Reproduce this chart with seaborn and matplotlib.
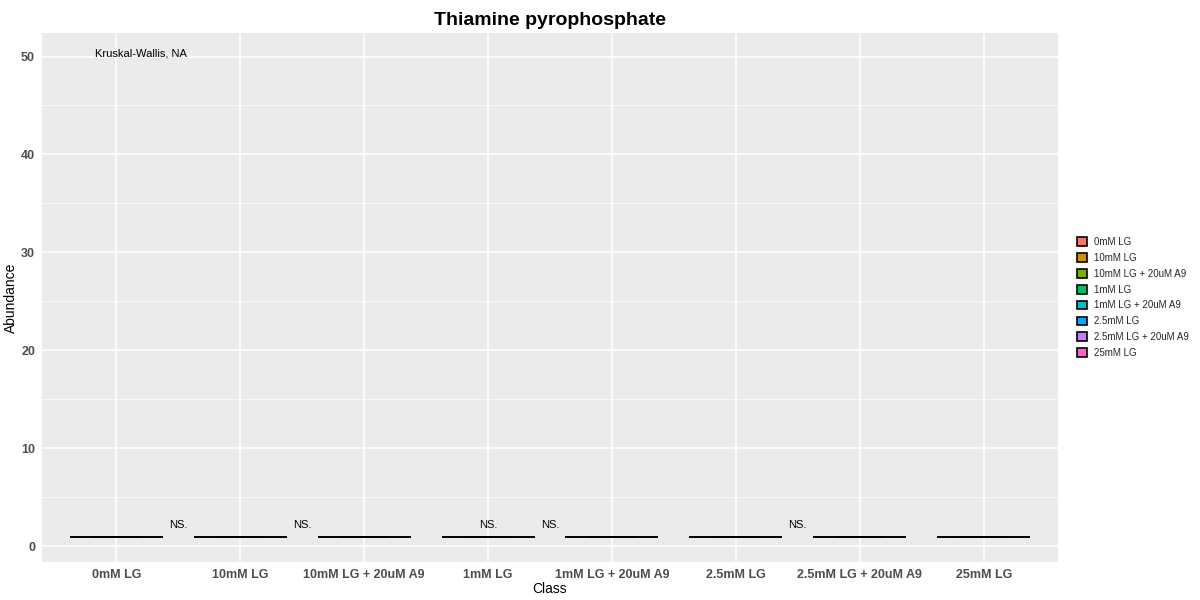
import numpy as np
import pandas as pd
import matplotlib
matplotlib.use("Agg")
import matplotlib.pyplot as plt
from matplotlib.ticker import MultipleLocator
import seaborn as sns

classes = ["0mM LG", "10mM LG", "10mM LG + 20uM A9", "1mM LG",
           "1mM LG + 20uM A9", "2.5mM LG", "2.5mM LG + 20uM A9", "25mM LG"]
abundance = [1.0, 1.0, 1.0, 1.0, 1.0, 1.0, 1.0, 1.0]
reps = 3
ns_pos = [0.5, 1.5, 3.0, 3.5, 5.5]
ns_y = 1.7
palette = ["#F8766D", "#CD9600", "#7CAE00", "#00BE67",
           "#00BFC4", "#00A9FF", "#C77CFF", "#FF61CC"]

df = pd.DataFrame({
    "Class": np.repeat(classes, reps),
    "Abundance": np.repeat(abundance, reps),
})

sns.set_theme(style="darkgrid", rc={"axes.facecolor": "#EBEBEB",
                                    "grid.color": "white"})
plt.rcParams["font.family"] = ["Liberation Sans", "DejaVu Sans"]

fig = plt.figure(figsize=(12, 6), dpi=100)
ax = fig.add_axes([42 / 1200, 38 / 600, 1016 / 1200, 529 / 600])
sns.boxplot(data=df, x="Class", y="Abundance", hue="Class", order=classes,
            hue_order=classes, palette=palette, saturation=1, dodge=False,
            width=0.75, linecolor="black", linewidth=1.2, legend=True, ax=ax)

for x in ns_pos:
    ax.text(x, ns_y, "NS.", ha="center", va="bottom", fontsize=8, color="black")
ax.text(0.2, 50.3, "Kruskal-Wallis, NA", ha="center", va="center",
        fontsize=8, color="black")

ax.set_xlim(-0.6, 7.6)
ax.set_ylim(-1.6, 52.4)
ax.yaxis.set_major_locator(MultipleLocator(10))
ax.yaxis.set_minor_locator(MultipleLocator(5))
ax.grid(which="major", color="white", linewidth=1.1)
ax.grid(which="minor", color="white", linewidth=0.5)
ax.tick_params(axis="both", labelsize=9, colors="#4D4D4D", length=3, pad=2)
for lab in ax.get_xticklabels() + ax.get_yticklabels():
    lab.set_fontweight("bold")
ax.set_xlabel("Class", fontsize=10, labelpad=1, color="black")
ax.set_ylabel("Abundance", fontsize=10, labelpad=2, color="black")
ax.set_title("Thiamine pyrophosphate", fontsize=14, fontweight="bold",
             pad=6, color="black")
for s in ax.spines.values():
    s.set_visible(False)

sns.move_legend(ax, "center left", bbox_to_anchor=(1.01, 0.5), frameon=False,
                title=None, fontsize=7, handlelength=1.0, handleheight=1.0,
                labelspacing=0.6)

fig.savefig("out.png", dpi=100)
